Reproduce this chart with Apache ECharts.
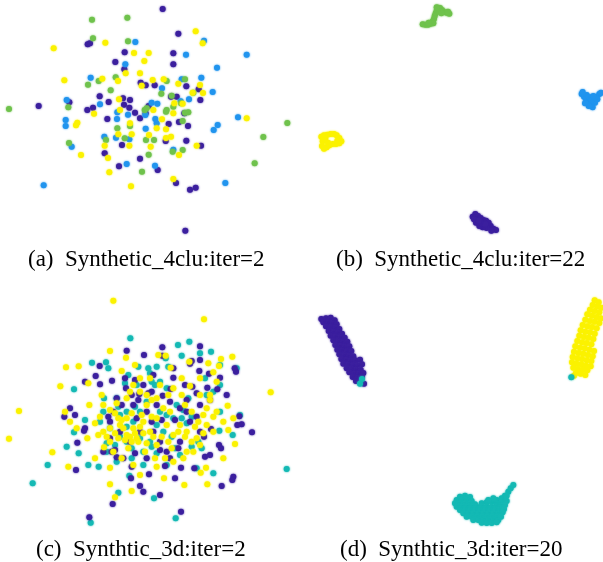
<!DOCTYPE html>
<html>
<head>
<meta charset="utf-8">
<script src="https://cdn.jsdelivr.net/npm/echarts@6/dist/echarts.min.js"></script>
<style>
  html, body { margin: 0; padding: 0; background: #fff; }
  #chart { width: 603px; height: 562px; }
</style>
</head>
<body>
<div id="chart"></div>
<script>
// Embedding coordinates for each panel (panel-local units, y grows downward)

// (a) Synthetic_4clu, iteration 2
const aPurple = [[488,27],[535,101],[263,133],[270,130],[374,157],[520,160],[520,193],[346,186],[373,208],[422,248],[437,256],[464,256],[559,259],[596,268],[513,290],[530,290],[299,289],[326,306],[369,295],[390,300],[208,307],[116,318],[262,330],[279,323],[372,314],[388,323],[405,338],[446,318],[601,300],[322,357],[420,355],[437,340],[506,372],[537,366],[564,378],[553,340],[497,423],[559,422],[603,437],[366,435],[314,460],[420,476],[357,499],[473,510],[528,549],[570,569],[587,563],[556,692]];
const aBlue = [[406,126],[612,122],[558,164],[740,164],[651,203],[376,193],[272,233],[545,238],[604,233],[486,265],[638,276],[200,300],[300,313],[567,298],[455,308],[472,311],[352,337],[384,344],[351,357],[197,360],[197,378],[436,345],[466,357],[470,370],[714,352],[653,375],[641,390],[348,413],[313,410],[388,418],[437,386],[520,449],[215,440],[380,492],[465,497],[131,556],[676,549],[542,304]];
const aGreen = [[276,59],[382,53],[279,115],[384,124],[296,243],[347,232],[264,254],[332,271],[484,281],[500,243],[555,238],[580,278],[515,287],[27,327],[205,322],[434,330],[440,325],[500,330],[520,320],[565,337],[555,338],[543,310],[548,363],[352,385],[374,415],[318,420],[438,420],[462,420],[518,455],[548,450],[446,464],[207,429],[426,515],[862,369],[790,411],[764,490],[498,335],[390,378]];
const aYellow = [[587,94],[608,130],[161,145],[316,128],[402,159],[446,159],[433,183],[420,220],[377,220],[193,241],[307,236],[458,240],[491,238],[535,251],[425,257],[600,255],[609,279],[578,278],[354,243],[357,298],[282,341],[232,368],[228,376],[460,330],[548,311],[520,340],[523,310],[486,358],[390,370],[395,403],[355,403],[470,385],[498,388],[513,410],[498,414],[447,405],[452,440],[388,437],[314,437],[324,474],[243,465],[537,465],[590,437],[328,517],[520,537],[393,559],[740,355],[360,330]];

// (b) Synthetic_4clu, iteration 22
const bGreen = [[368,73],[376,74],[384,74],[392,71],[398,64],[402,56],[404,48],[407,40],[410,32],[414,25],[420,24],[426,30],[432,36],[440,38],[448,41],[418,34],[400,70],[386,68],[424,40],[410,22],[444,35]];
const bBlue = [[845,282],[852,290],[858,298],[865,306],[872,314],[878,322],[860,285],[870,292],[880,300],[890,290],[898,282],[903,278],[885,308],[875,300],[866,318],[855,310],[892,298],[848,276],[880,288]];
const bYellow = [[64,410],[72,406],[82,404],[92,402],[102,402],[110,406],[118,414],[124,424],[118,430],[108,432],[98,432],[88,436],[80,442],[72,446],[66,438],[68,424],[76,416],[112,422],[84,428]];
const bPurple = [[518,650],[526,642],[534,648],[542,654],[550,660],[558,662],[566,668],[572,678],[580,686],[588,690],[574,692],[560,684],[548,682],[538,678],[528,668],[522,658],[545,670],[556,672],[536,662]];

// (c) Synthtic_3d, iteration 2
const cYellow = [[340,47],[612,103],[812,322],[57,378],[27,461],[198,247],[236,244],[181,304],[330,198],[378,218],[405,240],[268,360],[157,502],[205,545],[330,598],[345,637],[395,618],[492,580],[553,600],[622,598],[602,563],[618,548],[670,520],[705,477],[683,362],[697,215],[663,222],[657,243],[640,262],[600,280],[570,303],[497,212],[475,210],[512,248],[545,280],[365,258],[400,300],[420,320],[440,330],[380,340],[350,355],[330,375],[300,395],[285,415],[310,440],[295,450],[330,470],[355,460],[380,450],[410,460],[400,430],[360,420],[380,400],[430,410],[450,440],[470,480],[505,470],[520,450],[500,420],[470,400],[490,370],[510,380],[540,420],[560,440],[590,460],[600,480],[580,500],[550,520],[520,530],[495,520],[470,545],[400,540],[420,570],[365,520],[330,548],[285,520],[262,460],[195,380],[210,410],[230,430],[312,487],[640,395],[610,390],[595,410],[620,420],[630,345],[650,380],[575,380],[555,360],[545,330],[480,300],[450,280],[420,280],[440,360],[470,340],[520,310],[625,235],[630,330],[650,290],[568,230],[560,500],[640,440],[670,410],[700,400],[465,520],[435,500],[385,490],[340,500],[355,400],[330,430],[305,330],[310,360],[265,295],[685,435],[390,455],[415,470],[370,430],[395,385],[425,390],[455,395],[485,455],[535,440],[575,470],[430,445],[345,445],[375,465],[405,445],[420,425],[440,475],[460,455],[395,470],[365,405],[515,490],[555,455],[610,445],[585,425],[345,385],[320,455],[455,345],[505,330],[390,320],[600,330],[620,370]];
const cPurple = [[487,187],[380,197],[432,210],[487,212],[600,184],[570,236],[575,228],[600,225],[598,258],[627,266],[660,278],[708,260],[704,250],[299,243],[287,273],[255,290],[300,298],[336,287],[405,285],[378,310],[395,330],[418,327],[455,320],[488,332],[512,312],[520,278],[555,300],[577,305],[590,325],[622,308],[652,313],[680,330],[725,418],[756,442],[712,420],[718,394],[633,432],[612,455],[657,480],[663,490],[665,603],[700,575],[697,585],[583,550],[543,548],[525,580],[480,630],[430,620],[420,603],[393,580],[338,657],[268,697],[543,680],[228,555],[232,473],[210,370],[193,395],[225,390],[255,430],[252,437],[335,500],[350,517],[370,520],[440,520],[510,520],[480,470],[460,440],[420,440],[390,470],[360,440],[330,410],[340,380],[365,360],[400,360],[440,380],[470,360],[510,350],[540,370],[560,380],[570,410],[600,440],[540,470],[500,500],[395,545],[447,568],[495,543],[560,345],[430,300],[460,270],[520,250],[615,515],[630,510],[330,460],[310,500],[410,400],[455,410],[600,360],[630,345],[350,340],[405,505],[525,405],[485,405],[325,395],[345,495],[415,345],[480,495],[535,490],[590,395],[445,325],[375,280]];
const cTeal = [[391,160],[534,180],[568,170],[633,200],[600,205],[545,212],[497,220],[505,245],[470,245],[445,250],[415,245],[385,270],[375,295],[325,250],[318,232],[276,233],[222,313],[312,340],[350,340],[455,290],[480,290],[500,310],[440,350],[420,380],[380,380],[360,390],[300,410],[255,405],[222,442],[200,485],[236,505],[265,540],[296,545],[143,540],[98,595],[388,572],[355,623],[462,640],[527,700],[272,713],[350,530],[395,520],[430,500],[455,485],[525,490],[540,510],[575,485],[605,490],[640,565],[698,450],[720,390],[658,437],[660,380],[640,320],[620,330],[565,340],[575,395],[545,400],[520,400],[490,440],[450,470],[420,460],[380,470],[345,480],[320,500],[310,380],[400,410],[470,420],[500,390],[710,250],[660,240],[860,552],[500,540],[430,540],[590,550],[530,360],[480,380],[330,430],[410,300],[615,280],[660,300],[380,425],[450,265],[395,490],[470,505],[560,415],[355,365],[465,300],[405,365],[360,455],[515,455],[595,470],[550,375],[320,475]];

// (d) Synthtic_3d, iteration 20
const dPurple = [[64,102],[78,100],[92,98],[104,106],[70,112],[84,112],[98,114],[110,118],[78,124],[92,126],[106,128],[118,132],[86,138],[100,140],[114,142],[126,146],[92,152],[106,154],[120,156],[134,158],[100,166],[114,168],[128,170],[142,170],[106,180],[120,182],[134,184],[148,184],[112,194],[126,196],[140,198],[154,198],[118,208],[132,210],[146,212],[160,214],[124,222],[138,224],[152,226],[166,226],[180,224],[130,236],[144,238],[158,240],[172,240],[186,238],[140,250],[154,252],[168,254],[182,254],[148,262],[162,266],[176,266],[190,264],[158,276],[172,278],[186,276],[168,288],[182,290],[192,296]];
const dYellow = [[884,46],[896,52],[878,60],[892,64],[904,68],[870,74],[884,78],[898,82],[862,88],[876,92],[890,96],[902,100],[856,104],[870,108],[884,110],[898,114],[848,120],[862,124],[876,126],[890,130],[842,136],[856,140],[870,142],[884,146],[838,152],[852,156],[866,158],[880,162],[832,168],[846,172],[860,174],[874,178],[826,184],[840,188],[854,190],[868,194],[882,198],[822,200],[836,204],[850,206],[864,210],[878,214],[818,216],[832,220],[846,222],[860,226],[874,228],[816,232],[830,236],[844,238],[858,242],[872,244],[820,248],[834,252],[848,254],[862,256],[828,264],[842,266],[856,270],[822,272]];
const dTeal = [[180,296],[186,282],[814,277],[480,635],[495,632],[510,636],[470,645],[485,645],[500,645],[515,648],[590,645],[605,640],[615,632],[465,655],[480,655],[495,655],[510,655],[525,658],[545,655],[560,652],[575,650],[590,655],[605,652],[620,648],[470,665],[485,665],[500,665],[515,665],[530,665],[545,665],[560,665],[575,665],[590,665],[605,662],[615,660],[480,675],[495,675],[510,675],[525,675],[540,675],[555,675],[570,675],[585,675],[600,672],[612,672],[490,685],[505,685],[520,685],[535,685],[550,685],[565,685],[580,685],[595,685],[608,682],[500,695],[515,695],[530,695],[545,695],[560,695],[575,695],[590,695],[603,695],[520,705],[535,705],[550,705],[565,705],[580,705],[595,705],[545,713],[560,714],[575,714],[590,712],[625,620],[632,610],[640,600],[620,632],[580,640],[565,645]];

const captions = [
  '(a)  Synthetic_4clu:iter=2',
  '(b)  Synthetic_4clu:iter=22',
  '(c)  Synthtic_3d:iter=2',
  '(d)  Synthtic_3d:iter=20'
];

const PURPLE = '#3b1f9e', BLUE = '#2094ee', GREEN = '#6fc24c', YELLOW = '#fbf200', TEAL = '#14b9b4';

const panels = [
  { left: 0,   top: 0,   width: 300, height: 240, xMax: 900, yMax: 720 },
  { left: 300, top: 0,   width: 303, height: 240, xMax: 909, yMax: 720 },
  { left: 0,   top: 285, width: 300, height: 245, xMax: 900, yMax: 735 },
  { left: 300, top: 285, width: 303, height: 245, xMax: 909, yMax: 735 }
];

const groups = [
  [[aPurple, PURPLE], [aBlue, BLUE], [aGreen, GREEN], [aYellow, YELLOW]],
  [[bGreen, GREEN], [bBlue, BLUE], [bYellow, YELLOW], [bPurple, PURPLE]],
  [[cTeal, TEAL], [cPurple, PURPLE], [cYellow, YELLOW]],
  [[dPurple, PURPLE], [dYellow, YELLOW], [dTeal, TEAL]]
];

const grid = [], xAxis = [], yAxis = [], series = [];
panels.forEach((p, i) => {
  grid.push({ left: p.left, top: p.top, width: p.width, height: p.height, containLabel: false });
  xAxis.push({ gridIndex: i, type: 'value', min: 0, max: p.xMax, show: false });
  yAxis.push({ gridIndex: i, type: 'value', min: 0, max: p.yMax, inverse: true, show: false });
  groups[i].forEach(([data, color]) => {
    series.push({
      type: 'scatter', xAxisIndex: i, yAxisIndex: i, data,
      symbolSize: 6, clip: false, silent: true,
      itemStyle: { color, opacity: 1, shadowBlur: 2, shadowColor: color }
    });
  });
});

const titleStyle = { fontFamily: '"Liberation Serif", "Times New Roman", serif', fontSize: 23, fontWeight: 'normal', color: '#000' };
const title = [
  { text: captions[0], left: 23, top: 243, textStyle: titleStyle },
  { text: captions[1], left: 331, top: 243, textStyle: titleStyle },
  { text: captions[2], left: 31, top: 533, textStyle: titleStyle },
  { text: captions[3], left: 335, top: 533, textStyle: titleStyle }
];

const chart = echarts.init(document.getElementById('chart'), null, { renderer: 'canvas' });
chart.setOption({ animation: false, backgroundColor: '#fff', title, grid, xAxis, yAxis, series });
</script>
</body>
</html>
